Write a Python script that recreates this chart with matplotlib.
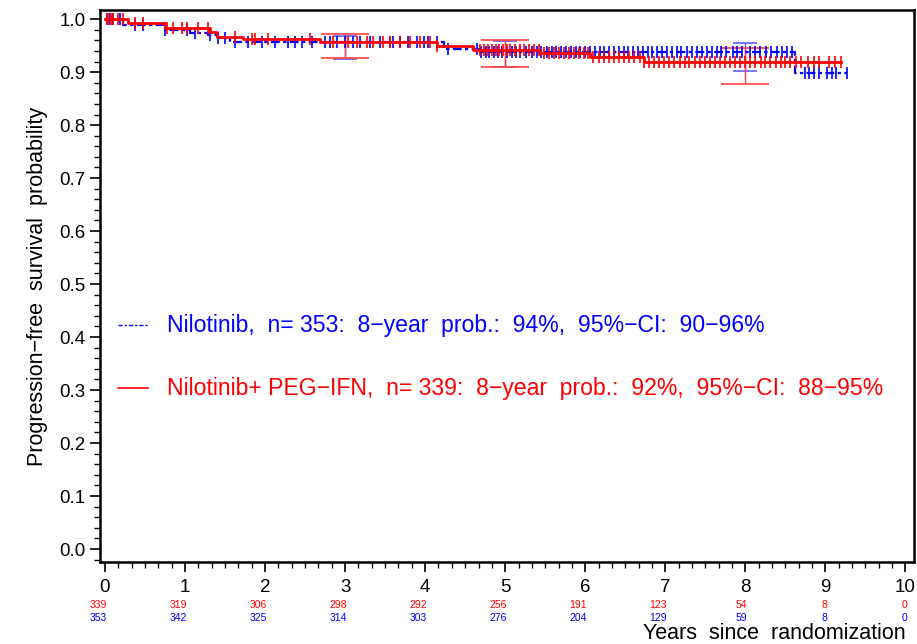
import matplotlib.pyplot as plt
import numpy as np
from matplotlib.ticker import MultipleLocator

plt.rcParams['font.family'] = ['Liberation Sans', 'DejaVu Sans']

# Kaplan-Meier steps (time in years, survival after the step)
nil_t = [0, 0.23, 0.75, 1.06, 1.29, 1.40, 1.56, 4.23, 4.70, 8.62]
nil_s = [1.0, 0.988, 0.979, 0.974, 0.970, 0.965, 0.956, 0.944, 0.938, 0.898]
nil_end = 9.27

peg_t = [0, 0.29, 0.75, 1.31, 1.40, 1.73, 2.69, 4.15, 4.60, 5.44, 6.06, 6.73]
peg_s = [1.0, 0.992, 0.984, 0.976, 0.967, 0.962, 0.956, 0.949, 0.942, 0.936, 0.929, 0.920]
peg_end = 9.20

# censoring times
nil_cens = [0.03, 0.06, 0.10, 0.19, 0.37, 0.48, 0.75, 1.03, 1.13, 1.31, 1.41, 1.50,
            1.63, 1.79, 1.96, 2.13, 2.29, 2.38, 2.46, 2.59, 2.75, 2.81, 2.90, 3.00,
            3.10, 3.19, 3.31, 3.44, 3.56, 3.60, 3.69, 3.78, 3.90, 3.98, 4.04, 4.15,
            4.28, 4.65, 4.70, 4.76, 4.80, 4.86, 4.91, 4.96, 5.02, 5.08, 5.13, 5.19,
            5.26, 5.33, 5.40, 5.45, 5.52, 5.58, 5.63, 5.70, 5.76, 5.82, 5.88, 5.93,
            6.00, 6.06, 6.12, 6.18, 6.24, 6.30, 6.36, 6.42, 6.48, 6.53, 6.60, 6.66,
            6.72, 6.78, 6.84, 6.90, 6.96, 7.02, 7.08, 7.14, 7.20, 7.27, 7.33, 7.40,
            7.46, 7.52, 7.58, 7.64, 7.70, 7.76, 7.84, 7.90, 7.96, 8.06, 8.12, 8.18,
            8.26, 8.32, 8.40, 8.46, 8.52, 8.58, 8.74, 8.80, 8.86, 8.92, 9.02, 9.08,
            9.13, 9.27]
peg_cens = [0.02, 0.04, 0.07, 0.10, 0.16, 0.23, 0.37, 0.48, 0.78, 0.85, 0.96, 1.03,
            1.16, 1.29, 1.63, 1.84, 1.88, 2.04, 2.56, 2.85, 3.03, 3.15, 3.27, 3.35,
            3.47, 3.56, 3.69, 3.81, 3.94, 4.06, 4.15, 4.69, 4.74, 4.78, 4.83, 4.88,
            4.92, 4.97, 5.02, 5.06, 5.12, 5.18, 5.24, 5.30, 5.36, 5.42, 5.48, 5.55,
            5.61, 5.67, 5.73, 5.80, 5.86, 5.92, 5.98, 6.04, 6.10, 6.17, 6.23, 6.30,
            6.36, 6.42, 6.48, 6.55, 6.61, 6.68, 6.74, 6.80, 6.86, 6.92, 6.99, 7.05,
            7.11, 7.18, 7.24, 7.30, 7.37, 7.43, 7.49, 7.56, 7.62, 7.68, 7.74, 7.81,
            7.87, 7.93, 8.00, 8.06, 8.12, 8.19, 8.25, 8.31, 8.38, 8.44, 8.50, 8.56,
            8.63, 8.70, 8.78, 8.86, 8.92, 9.05, 9.12, 9.20]

# pointwise 95% CI
ci_t = [3, 5, 8]
nil_lo = [0.925, 0.909, 0.902]
nil_hi = [0.968, 0.958, 0.955]
peg_lo = [0.927, 0.909, 0.877]
peg_hi = [0.972, 0.960, 0.945]

# numbers at risk
risk_t = list(range(11))
peg_risk = [339, 319, 306, 298, 292, 256, 191, 123, 54, 8, 0]
nil_risk = [353, 342, 325, 314, 303, 276, 204, 129, 59, 8, 0]

BLUE = '#0000ff'
RED = '#ff0000'


def step_value(t_steps, s_steps, x):
    idx = np.searchsorted(t_steps, x, side='right') - 1
    return np.array(s_steps)[idx]


def draw_km(ax, t, s, end, cens, color, ls, lw):
    xs = list(t) + [end]
    ys = list(s) + [s[-1]]
    ax.step(xs, ys, where='post', color=color, ls=ls, lw=lw, zorder=3)
    ax.plot(cens, step_value(t, s, np.array(cens)), ls='none', marker='|',
            ms=8, mew=1.2, color=color, zorder=3)


fig = plt.figure(figsize=(9.17, 6.44), dpi=100)
ax = fig.add_axes([0.109, 0.1273, 0.888, 0.857])

blue_ls = (0, (4, 1.5, 1.5, 1.5))
draw_km(ax, nil_t, nil_s, nil_end, nil_cens, BLUE, blue_ls, 1.6)
draw_km(ax, peg_t, peg_s, peg_end, peg_cens, RED, '-', 2.0)

# confidence interval bars
for i, t in enumerate(ci_t):
    ax.vlines(t, nil_lo[i], nil_hi[i], color='#6060ff', lw=1, zorder=2)
    ax.hlines([nil_lo[i], nil_hi[i]], t - 0.15, t + 0.15, color='#6060ff', lw=1.2, zorder=2)
    ax.vlines(t, peg_lo[i], peg_hi[i], color='#ff4040', lw=1, zorder=2)
    ax.hlines([peg_lo[i], peg_hi[i]], t - 0.3, t + 0.3, color='#ff4040', lw=1.2, zorder=2)

# legend drawn inside the plot
ax.plot([0.16, 0.54], [0.4226, 0.4226], color=BLUE, ls=(0, (3, 1.5, 1.5, 1.5)), lw=1)
ax.plot([0.16, 0.54], [0.3038, 0.3038], color=RED, lw=1.2)
ax.text(0.78, 0.4226, 'Nilotinib,  n= 353:  8\u2212year  prob.:  94%,  95%\u2212CI:  90\u221296%',
        color=BLUE, fontsize=16.6, va='center')
ax.text(0.78, 0.3038, 'Nilotinib+ PEG\u2212IFN,  n= 339:  8\u2212year  prob.:  92%,  95%\u2212CI:  88\u221295%',
        color=RED, fontsize=16.6, va='center')

ax.set_xlim(-0.0625, 10.11)
ax.set_ylim(-0.0245, 1.017)
ax.xaxis.set_major_locator(MultipleLocator(1))
ax.xaxis.set_minor_locator(MultipleLocator(1 / 6))
ax.yaxis.set_major_locator(MultipleLocator(0.1))
ax.yaxis.set_minor_locator(MultipleLocator(0.02))
ax.set_yticks(np.arange(0, 1.01, 0.1))
ax.set_yticklabels([f'{v:.1f}' for v in np.arange(0, 1.01, 0.1)])
ax.tick_params(which='major', length=7, width=1.2, labelsize=13.5, direction='out')
ax.tick_params(which='minor', length=4, width=1)
ax.tick_params(axis='x', pad=5)
for sp in ax.spines.values():
    sp.set_linewidth(1.8)

ax.set_ylabel('Progression\u2212free  survival  probability', fontsize=15.5, labelpad=8)

# numbers at risk under the x axis, right aligned on the ticks
for i, t in enumerate(risk_t):
    x_fig = fig.transFigure.inverted().transform(ax.transData.transform((t, 0)))[0]
    fig.text(x_fig + 0.002, 1 - 605 / 644, str(peg_risk[i]), ha='right', va='center',
             color=RED, fontsize=7.5)
    fig.text(x_fig + 0.002, 1 - 618 / 644, str(nil_risk[i]), ha='right', va='center',
             color=BLUE, fontsize=7.5)

fig.text(0.988, 1 - 639 / 644, 'Years  since  randomization', ha='right', va='baseline',
         fontsize=15.5)

fig.savefig('out.png', dpi=100)
